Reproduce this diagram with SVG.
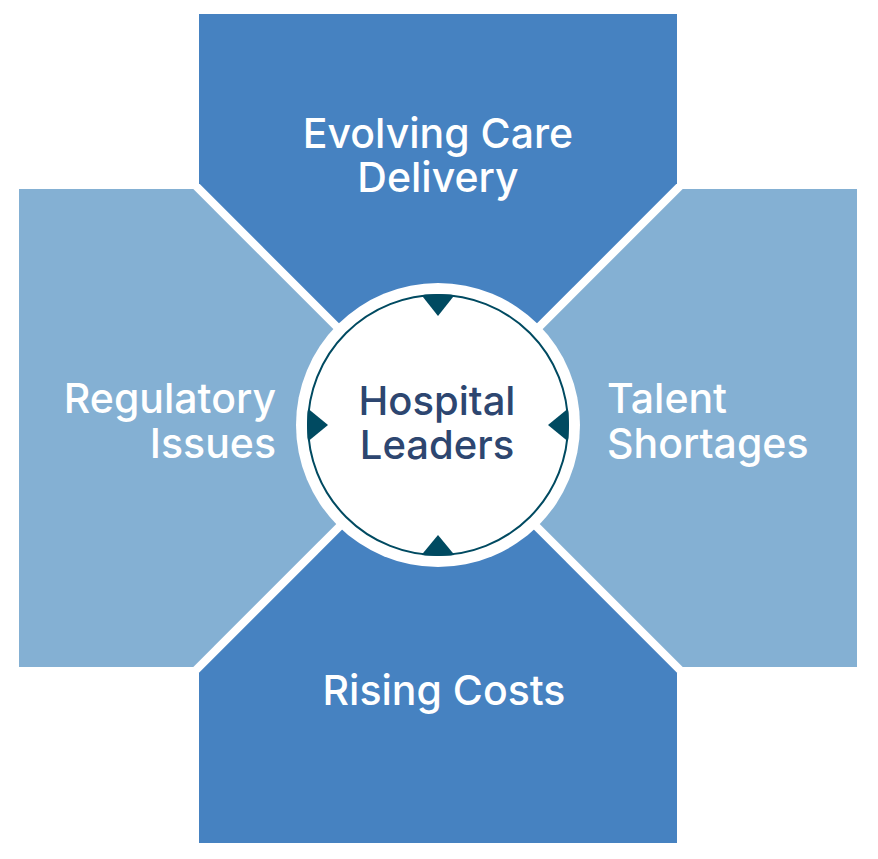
<svg xmlns="http://www.w3.org/2000/svg" width="878" height="859" viewBox="0 0 878 859">
  <style>
    .dark { fill: #4682C1; }
    .light { fill: #84B0D3; }
    .lbl { font-family: Inter, "Noto Sans", "Liberation Sans", sans-serif; font-size: 41px; font-weight: 500; fill: #FFFFFF; }
    .ctr { font-family: Inter, "Noto Sans", "Liberation Sans", sans-serif; font-size: 40px; font-weight: 500; fill: #2D4670; }
    .tri { fill: #004A61; }
  </style>
  <defs>
    <clipPath id="ringClip">
      <circle cx="438" cy="425" r="131"/>
    </clipPath>
  </defs>
  <rect width="878" height="859" fill="#FFFFFF"/>

  <g id="evolving-care-delivery">
    <polygon class="dark" points="199,14 677,14 677,183.3 438,422.3 199,183.3"/>
    <text class="lbl" x="438" y="148" text-anchor="middle">Evolving Care</text>
    <text class="lbl" x="438" y="192" text-anchor="middle">Delivery</text>
  </g>

  <g id="regulatory-issues">
    <polygon class="light" points="19,189 193.3,189 432.3,428 193.3,667 19,667"/>
    <text class="lbl" x="276" y="413" text-anchor="end">Regulatory</text>
    <text class="lbl" x="276" y="458" text-anchor="end">Issues</text>
  </g>

  <g id="talent-shortages">
    <polygon class="light" points="682.7,189 857,189 857,667 682.7,667 443.7,428"/>
    <text class="lbl" x="607" y="413">Talent</text>
    <text class="lbl" x="607" y="458">Shortages</text>
  </g>

  <g id="rising-costs">
    <polygon class="dark" points="199,672.7 438,433.7 677,672.7 677,843 199,843"/>
    <text class="lbl" x="444" y="705" text-anchor="middle">Rising Costs</text>
  </g>

  <g id="connectors"></g>

  <g id="hospital-leaders">
    <circle cx="438" cy="425" r="142" fill="#FFFFFF"/>
    <circle cx="438" cy="425" r="130" fill="#FFFFFF" stroke="#004A61" stroke-width="2"/>
    <g clip-path="url(#ringClip)">
      <polygon class="tri" points="419,292 457,292 438,316"/>
      <polygon class="tri" points="419,558 457,558 438,535"/>
      <polygon class="tri" points="305,406 305,444 328,425"/>
      <polygon class="tri" points="571,406 571,444 548,425"/>
    </g>
    <text class="ctr" x="437" y="415" text-anchor="middle">Hospital</text>
    <text class="ctr" x="437" y="459" text-anchor="middle">Leaders</text>
  </g>
</svg>
